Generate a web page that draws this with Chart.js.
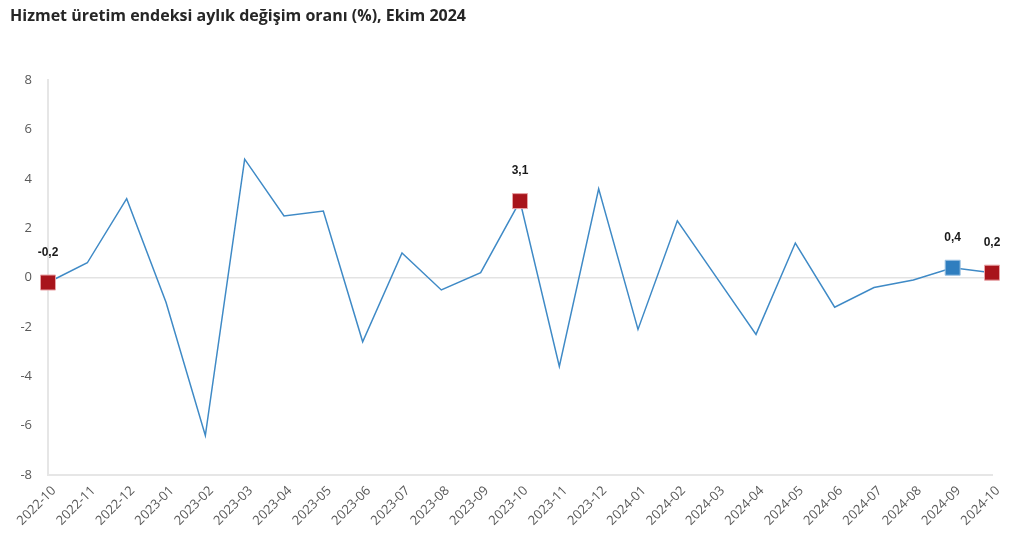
<!DOCTYPE html>
<html>
<head>
<meta charset="utf-8">
<script src="https://cdn.jsdelivr.net/npm/chart.js@4"></script>
<style>
html,body{margin:0;padding:0;background:#fff;}
#wrap{width:1024px;height:544px;position:relative;}
</style>
</head>
<body>
<div id="wrap"><canvas id="c" width="1024" height="544"></canvas></div>
<script>
const categories = ["2022-10","2022-11","2022-12","2023-01","2023-02","2023-03","2023-04","2023-05","2023-06","2023-07","2023-08","2023-09","2023-10","2023-11","2023-12","2024-01","2024-02","2024-03","2024-04","2024-05","2024-06","2024-07","2024-08","2024-09","2024-10"];
const values = [-0.2,0.6,3.2,-1.0,-6.4,4.8,2.5,2.7,-2.6,1.0,-0.5,0.2,3.1,-3.6,3.6,-2.1,2.3,0.0,-2.3,1.4,-1.2,-0.4,-0.1,0.4,0.2];
const highlightRed = ["2022-10","2023-10","2024-10"];
const highlightBlue = ["2024-09"];
const titleText = "Hizmet üretim endeksi aylık değişim oranı (%), Ekim 2024";

const RED = '#A8141B', BLUE = '#2F7EBF';
const isMarked = c => highlightRed.includes(c) || highlightBlue.includes(c);

const labelPlugin = {
  id: 'pointLabels',
  afterDatasetsDraw(chart) {
    const ctx = chart.ctx;
    const meta = chart.getDatasetMeta(0);
    ctx.save();
    ctx.font = 'bold 12px "Liberation Sans", Arial, sans-serif';
    ctx.fillStyle = '#1a1a1a';
    ctx.textAlign = 'center';
    ctx.textBaseline = 'middle';
    categories.forEach((c, i) => {
      if (!isMarked(c)) return;
      const p = meta.data[i];
      ctx.fillText(values[i].toFixed(1).replace('.', ','), p.x, p.y - 30);
    });
    ctx.restore();
  }
};

new Chart(document.getElementById('c'), {
  type: 'line',
  data: {
    labels: categories,
    datasets: [{
      data: values,
      borderColor: '#3F8AC6',
      borderWidth: 1.5,
      tension: 0,
      fill: false,
      pointStyle: 'rect',
      pointRadius: categories.map(c => isMarked(c) ? 10.6 : 0),
      pointHoverRadius: categories.map(c => isMarked(c) ? 10.6 : 0),
      pointBackgroundColor: categories.map(c => highlightRed.includes(c) ? RED : BLUE),
      pointBorderColor: categories.map(c => highlightRed.includes(c) ? '#e9a3a6' : '#9cc3e3'),
      pointBorderWidth: 1
    }]
  },
  options: {
    responsive: false,
    animation: false,
    layout: { padding: { left: 10, right: 32, top: 0, bottom: 0 } },
    plugins: {
      legend: { display: false },
      tooltip: { enabled: false },
      title: {
        display: true,
        text: titleText,
        align: 'start',
        color: '#262626',
        font: { family: '"Open Sans", "Noto Sans", sans-serif', size: 16, weight: 'bold', lineHeight: 1.2 },
        padding: { top: 7, bottom: 54 }
      }
    },
    scales: {
      x: {
        offset: false,
        grid: { display: false, drawTicks: false },
        border: { display: true, color: '#e6e6e6', width: 2 },
        ticks: {
          autoSkip: false,
          minRotation: 45,
          maxRotation: 45,
          padding: 8,
          labelOffset: 6,
          color: '#595959',
          font: { family: '"Open Sans", "Noto Sans", sans-serif', size: 13 }
        },
        afterFit(s) { s.height = 69; }
      },
      y: {
        min: -8, max: 8,
        ticks: {
          stepSize: 2,
          padding: 16,
          color: '#595959',
          font: { family: '"Open Sans", "Noto Sans", sans-serif', size: 13 }
        },
        grid: {
          drawTicks: false,
          color: ctx => (ctx.tick && ctx.tick.value === 0) ? '#e3e3e3' : 'rgba(0,0,0,0)',
          lineWidth: 1.5
        },
        border: { display: true, color: '#e6e6e6', width: 2 },
        afterFit(s) { s.width = 38; }
      }
    }
  },
  plugins: [labelPlugin]
});
</script>
</body>
</html>
